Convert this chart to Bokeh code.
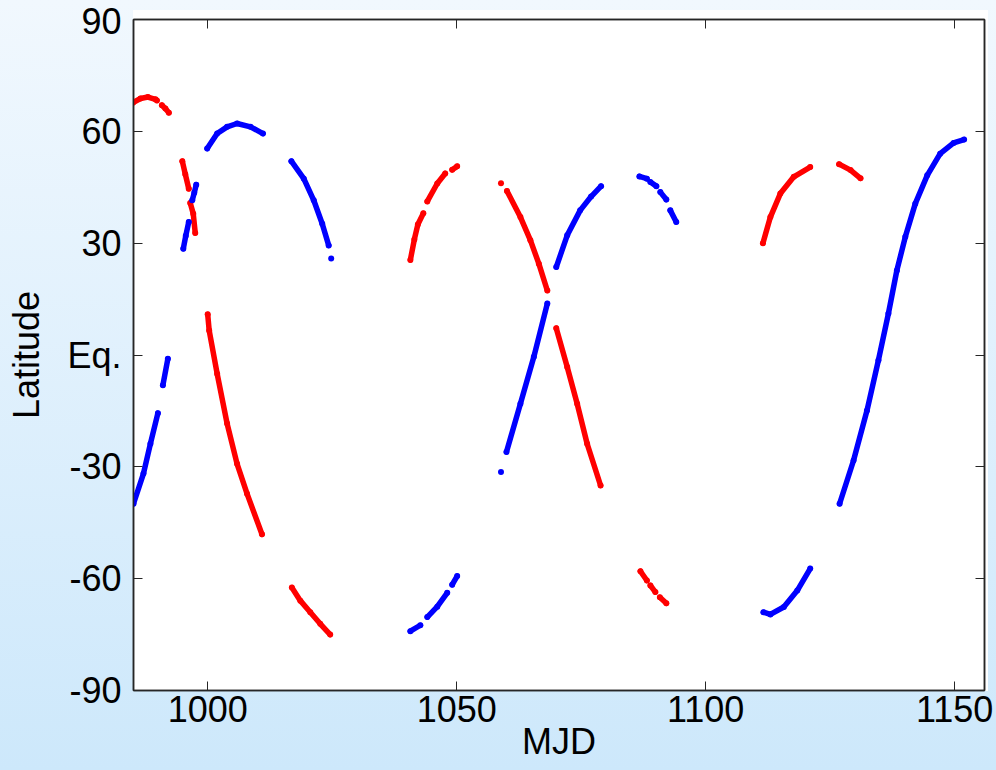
from bokeh.plotting import figure
from bokeh.models import FixedTicker, LinearAxis, Range1d
from bokeh.embed import file_html
from bokeh.resources import INLINE

NAN = float("nan")

# Axis settings
mjd_limits = (985.1, 1156.0)
lat_limits = (-90, 90)
mjd_ticks = [1000, 1050, 1100, 1150]
lat_ticks = [-90, -60, -30, 0, 30, 60, 90]
lat_tick_labels = ["-90", "-60", "-30", "Eq.", "30", "60", "90"]

# Sub-satellite latitude tracks; NaN separates gaps in coverage
red_mjd = [985.0, 986.5, 988.0, 989.5, 989.8, NAN, 990.8, 991.5, 992.2, NAN,
           994.9, 995.5, 996.2, NAN, 996.5, 997.1, 997.5, NAN,
           1000.0, 1000.3, 1001.9, 1003.9, 1005.9, 1007.9, 1010.9, NAN,
           1016.9, 1018.6, 1020.6, 1022.6, 1024.6, NAN,
           1040.7, 1041.5, 1042.2, 1043.3, NAN, 1044.1, 1046.1, 1047.7, NAN, 1049.1, 1050.1, NAN,
           1058.9, NAN, 1060.1, 1062.8, 1064.8, 1066.5, 1068.2, NAN,
           1070.0, 1072.2, 1074.2, 1076.2, 1078.9, NAN,
           1086.9, 1088.2, NAN, 1088.9, 1089.9, NAN, 1090.8, 1092.1, NAN,
           1111.5, 1113.0, 1115.0, 1117.7, 1121.0, NAN, 1126.8, 1129.1, 1131.1]
red_lat = [67.7, 68.8, 69.2, 68.6, 68.3, NAN, 67.0, 66.1, 65.0, NAN,
           52.0, 48.5, 44.6, NAN, 40.8, 37.9, 32.7, NAN,
           10.9, 6.6, -5.0, -18.4, -29.2, -37.2, -48.1, NAN,
           -62.4, -65.9, -69.0, -72.1, -75.0, NAN,
           25.5, 31.0, 35.0, 38.0, NAN, 41.2, 46.0, 48.7, NAN, 49.7, 50.6, NAN,
           46.1, NAN, 44.0, 37.0, 30.8, 24.5, 17.3, NAN,
           7.2, -3.2, -13.1, -23.8, -35.0, NAN,
           -58.0, -60.5, NAN, -61.8, -63.6, NAN, -65.0, -66.6, NAN,
           30.0, 37.0, 43.3, 47.8, 50.4, NAN, 51.2, 49.6, 47.4]

blue_mjd = [985.1, 987.1, 988.5, 990.0, NAN, 991.0, 992.0, NAN,
            995.1, 995.6, 996.2, NAN, 996.9, 997.3, 997.7, NAN,
            999.9, 1001.9, 1003.9, 1005.9, 1008.6, 1011.1, NAN,
            1016.8, 1019.3, 1021.3, 1023.0, 1024.3, NAN, 1024.8, NAN,
            1040.7, 1042.7, NAN, 1044.1, 1046.1, 1048.1, NAN, 1049.1, 1050.1, NAN,
            1058.9, NAN, 1060.0, 1062.8, 1065.5, 1068.2, NAN,
            1070.0, 1072.2, 1074.8, 1077.0, 1079.0, NAN,
            1086.7, 1088.2, NAN, 1088.9, 1090.1, NAN, 1090.9, 1092.1, NAN, 1092.9, 1094.1, NAN,
            1111.6, 1113.0, 1115.7, 1118.4, 1121.0, NAN,
            1126.9, 1129.7, 1132.4, 1134.7, 1136.7, 1138.4, 1140.1, 1142.1,
            1144.5, 1147.1, 1149.8, 1151.9]
blue_lat = [-39.9, -31.8, -23.8, -15.6, NAN, -8.1, -1.0, NAN,
            28.5, 32.0, 35.7, NAN, 41.5, 43.5, 45.7, NAN,
            55.4, 59.4, 61.2, 62.1, 61.2, 59.4, NAN,
            52.0, 47.3, 41.5, 35.2, 29.4, NAN, 25.9, NAN,
            -74.1, -72.5, NAN, -70.3, -67.5, -63.8, NAN, -61.6, -59.3, NAN,
            -31.4, NAN, -26.0, -13.1, -0.5, 13.8, NAN,
            23.6, 32.1, 38.8, 42.5, 45.3, NAN,
            47.9, 47.3, NAN, 46.4, 45.3, NAN, 43.7, 41.7, NAN, 38.8, 35.7, NAN,
            -69.0, -69.6, -67.6, -63.2, -57.3, NAN,
            -39.9, -28.3, -14.9, -1.4, 11.1, 22.7, 31.7, 40.6,
            48.2, 54.0, 56.9, 57.8]

FONT = "Liberation Sans"
AXIS_COLOR = "#262626"

p = figure(
    width=996, height=770,
    x_range=Range1d(*mjd_limits), y_range=Range1d(*lat_limits),
    output_backend="svg", toolbar_location=None,
    min_border_left=133, min_border_right=12, min_border_top=19, min_border_bottom=80,
    x_axis_label="MJD", y_axis_label="Latitude",
)

# Light-blue gradient page behind a white axes box
p.border_fill_color = None
p.background_fill_color = "white"
p.styles = {
    "background": "linear-gradient(#ffffff, #ffffff) 133px 10px / 855px 681px no-repeat, "
                  "linear-gradient(180deg, #f1f8fe 0%, #cde8fb 100%)"
}
p.outline_line_color = AXIS_COLOR
p.outline_line_width = 1.5
p.grid.visible = False

for ax in (p.xaxis[0], p.yaxis[0]):
    ax.major_tick_in = 9
    ax.major_tick_out = 0
    ax.minor_tick_line_color = None
    ax.major_tick_line_color = AXIS_COLOR
    ax.axis_line_color = AXIS_COLOR
    ax.axis_line_width = 1.5
    ax.major_label_text_font = FONT
    ax.major_label_text_font_size = "36px"
    ax.major_label_text_color = "black"
    ax.axis_label_text_font = FONT
    ax.axis_label_text_font_size = "36px"
    ax.axis_label_text_font_style = "normal"
    ax.axis_label_text_color = "black"

p.xaxis.ticker = FixedTicker(ticks=mjd_ticks)
p.xaxis.major_label_standoff = 5
p.xaxis.axis_label_standoff = -4

p.yaxis.ticker = FixedTicker(ticks=lat_ticks)
p.yaxis.major_label_overrides = {t: s for t, s in zip(lat_ticks, lat_tick_labels)}
p.yaxis.major_label_standoff = 12
p.yaxis.axis_label_standoff = 17

# Box-style ticks on the top and right edges
top_axis = LinearAxis(ticker=FixedTicker(ticks=mjd_ticks))
right_axis = LinearAxis(ticker=FixedTicker(ticks=lat_ticks))
for ax in (top_axis, right_axis):
    ax.major_tick_in = 9
    ax.major_tick_out = 0
    ax.minor_tick_line_color = None
    ax.major_tick_line_color = AXIS_COLOR
    ax.axis_line_color = AXIS_COLOR
    ax.axis_line_width = 1.5
    ax.major_label_text_font_size = "1px"
    ax.major_label_text_color = None
    ax.major_label_standoff = 0
p.add_layout(top_axis, "above")
p.add_layout(right_axis, "right")

# Tracks drawn as dense thick strokes, with dots so isolated samples show
for xs, ys, color in ((red_mjd, red_lat, "#ff0000"), (blue_mjd, blue_lat, "#0000ff")):
    p.line(xs, ys, line_color=color, line_width=5.5, line_cap="round", line_join="round")
    p.scatter(xs, ys, marker="circle", size=6, fill_color=color, line_color=None)

open("out.html", "w").write(file_html(p, INLINE))
